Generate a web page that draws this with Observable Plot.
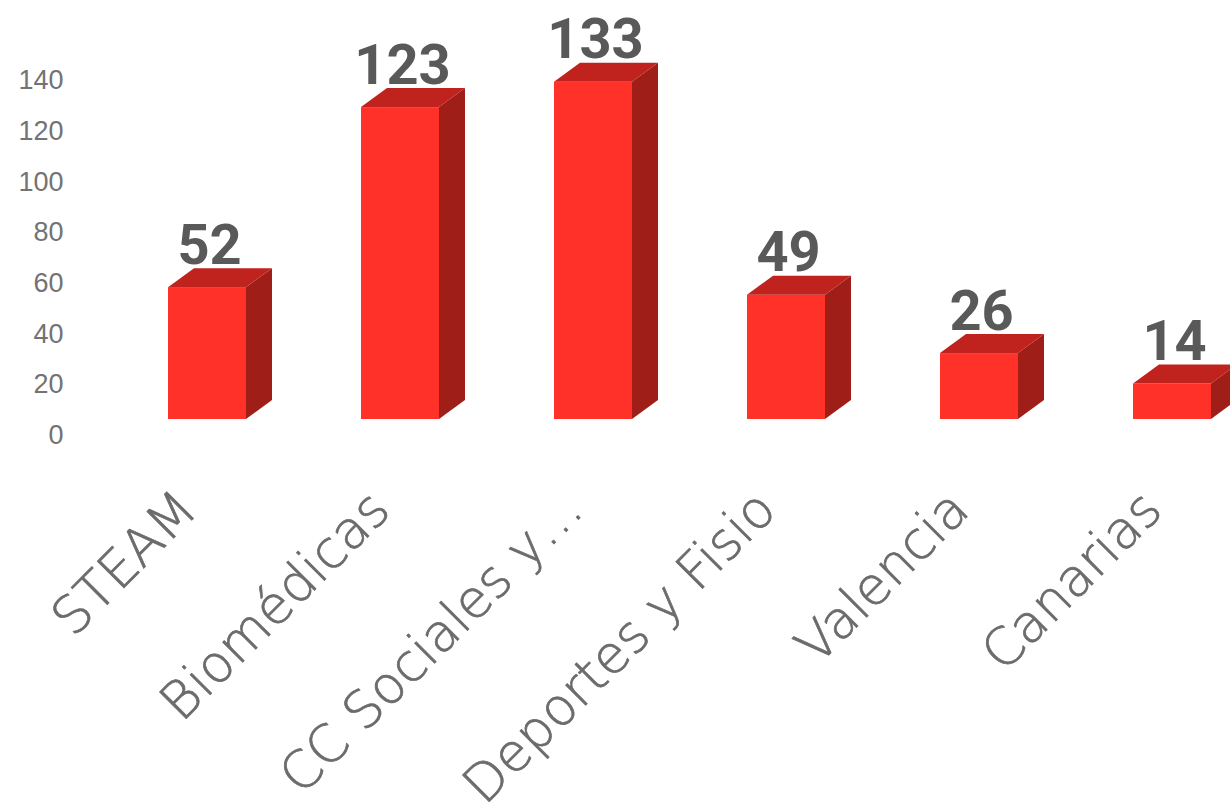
<!DOCTYPE html>
<html>
<head>
<meta charset="utf-8">
<script src="https://cdn.jsdelivr.net/npm/d3@7"></script>
<script src="https://cdn.jsdelivr.net/npm/@observablehq/plot@0.6"></script>
<style>
  html, body { margin: 0; padding: 0; background: #fff; }
  #chart svg { display: block; overflow: visible; }
</style>
</head>
<body>
<div id="chart"></div>
<script>
const categories = ["STEAM", "Biomédicas", "CC Sociales y…", "Deportes y Fisio", "Valencia", "Canarias"];
const values = [52, 123, 133, 49, 26, 14];
const yTicks = [0, 20, 40, 60, 80, 100, 120, 140];

const data = categories.map((c, i) => ({cat: c, value: values[i]}));

const FRONT = "#FF3128";
const TOP = "#C0221D";
const SIDE = "#A01E18";
const DEPTH_X = 26, DEPTH_Y = 19;

function faces(index, scales, vals, dims, ctx, next) {
  const g = next(index, scales, vals, dims, ctx);
  const ns = "http://www.w3.org/2000/svg";
  const rects = Array.from(g.querySelectorAll("rect"));
  for (const r of rects) {
    const x = +r.getAttribute("x"), y = +r.getAttribute("y");
    const w = +r.getAttribute("width"), h = +r.getAttribute("height");
    const side = document.createElementNS(ns, "polygon");
    side.setAttribute("points", [
      [x + w, y], [x + w + DEPTH_X, y - DEPTH_Y], [x + w + DEPTH_X, y + h - DEPTH_Y], [x + w, y + h]
    ].map(p => p.join(",")).join(" "));
    side.setAttribute("fill", SIDE);
    const top = document.createElementNS(ns, "polygon");
    top.setAttribute("points", [
      [x, y], [x + w, y], [x + w + DEPTH_X, y - DEPTH_Y], [x + DEPTH_X, y - DEPTH_Y]
    ].map(p => p.join(",")).join(" "));
    top.setAttribute("fill", TOP);
    g.appendChild(side);
    g.appendChild(top);
  }
  return g;
}

const chart = Plot.plot({
  width: 1230,
  height: 811,
  marginLeft: 66,
  marginRight: 0,
  marginTop: 0,
  marginBottom: 0,
  style: {background: "transparent", overflow: "visible"},
  x: {domain: categories, range: [110.5, 1268.5], paddingInner: 0.596, paddingOuter: 0.298, axis: null},
  y: {domain: [0, 140], range: [419, 64], axis: null},
  marks: [
    Plot.axisY({
      ticks: yTicks, tickSize: 0, tickPadding: 3, anchor: "left", label: null,
      fontSize: 27, fill: "#737373", dy: 16,
      fontFamily: "'Liberation Sans', Arial, sans-serif"
    }),
    Plot.barY(data, {x: "cat", y: "value", fill: FRONT, inset: 0, render: faces}),
    Plot.text(data, {
      x: "cat", y: "value", text: d => String(d.value),
      dy: -24, dx: 2, lineAnchor: "bottom",
      fontSize: 56, fontWeight: "bold", fill: "#595959",
      fontFamily: "Roboto, sans-serif"
    }),
    Plot.text(data, {
      x: "cat", y: () => 0, text: "cat",
      rotate: -45, textAnchor: "end", lineAnchor: "bottom",
      dx: -8, dy: 93,
      fontSize: 52, fontWeight: 300, fill: "#6b6b6b", stroke: "#6b6b6b", strokeWidth: 0.7,
      fontFamily: "'DejaVu Sans', sans-serif"
    })
  ]
});
document.getElementById("chart").appendChild(chart);
</script>
</body>
</html>
